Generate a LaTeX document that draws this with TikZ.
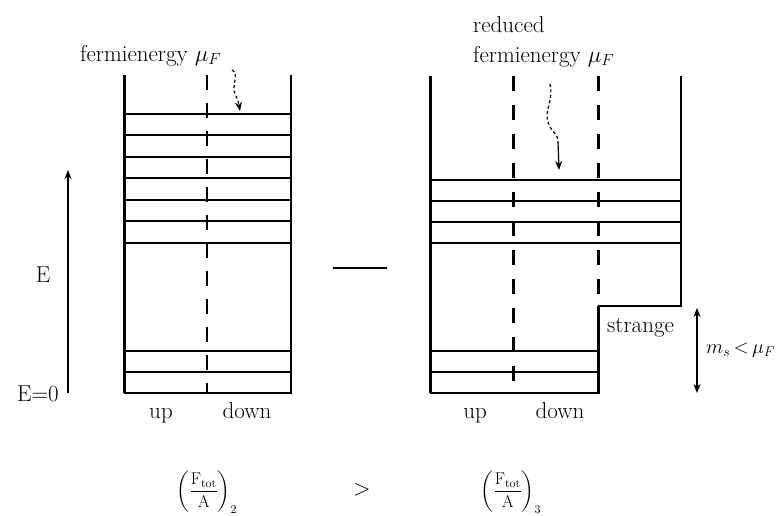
\RequirePackage{fix-cm}
\documentclass[tikz,border=0pt]{standalone}
\usepackage{exscale}
\usetikzlibrary{arrows.meta}
\begin{document}
\begin{tikzpicture}[x=1pt,y=-1pt,
  thickwall/.style={line width=3pt},
  thinwall/.style={line width=1.5pt},
  level/.style={line width=1.6pt},
  thindash/.style={line width=1.5pt,dash pattern=on 15pt off 13pt},
  thickdash/.style={line width=3pt,dash pattern=on 15pt off 14pt},
  lbl/.style={font=\fontsize{23}{27}\selectfont,inner sep=0pt},
  frm/.style={font=\fontsize{17}{21}\selectfont,inner sep=0pt},
  wavy/.style={line width=1.2pt,dash pattern=on 3pt off 2.5pt},
  tip/.style={-{Stealth[length=9pt,width=7pt]}}
]
\useasboundingbox (0,0) rectangle (784,515);
% ---------- left box ----------
\draw[thickwall] (124,75) -- (124,393);
\draw[thinwall] (124,393) -- (291,393) -- (291,75);
\draw[thindash] (207,75) -- (207,393);
\foreach \y in {114,135,157,178,200,221,243,351,372}
  \draw[level] (124,\y) -- (291,\y);
% ---------- right box ----------
\draw[thickwall] (430,76) -- (430,393);
\draw[thinwall] (430,393) -- (598,393);
\draw[thickwall] (598,306) -- (598,394);
\draw[thinwall] (598,306) -- (681,306) -- (681,76);
\draw[thickdash] (513,76) -- (513,393);
\draw[thickdash] (598,76) -- (598,306);
\foreach \y in {180,201,222,243}
  \draw[level] (430,\y) -- (681,\y);
\foreach \y in {351,372}
  \draw[level] (430,\y) -- (598,\y);
% ---------- labels ----------
\node[lbl,anchor=base west] (fl) at (80,61) {fermienergy $\mu_F$};
\node[lbl,anchor=base west] (red) at (473,32) {reduced};
\node[lbl,anchor=base west] (fr) at (473,62) {fermienergy $\mu_F$};
\coordinate (wl0) at (232,70);
\coordinate (wl1) at (240,111);
\draw[wavy,tip] (wl0) .. controls (240,74) and (231,86) .. (235,94)
  .. controls (238,100) .. (wl1);
\coordinate (wr0) at (550,84);
\coordinate (wr1) at (559,170);
\coordinate (wrm) at (558,142);
\draw[wavy] (wr0) .. controls (554,100) and (544,110) .. (548,122)
  .. controls (551,133) and (558,132) .. (wrm);
\draw[line width=1.2pt,tip] (wrm) -- (wr1);
% energy axis
\coordinate (ea) at (68,393);
\coordinate (eb) at (68,170);
\draw[line width=1.2pt,tip] (ea) -- (eb);
\node[lbl] (E) at (43,275) {E};
\node[lbl] (E0) at (38,394) {E=0};
% minus
\coordinate (m0) at (333,268);
\coordinate (m1) at (387,268);
\draw[line width=2pt] (m0) -- (m1);
% strange
\node[lbl,anchor=base west] (st) at (607,332) {strange};
\coordinate (da) at (697,308);
\coordinate (db) at (697,393);
\draw[line width=1.5pt,{Stealth[length=9pt,width=7pt]}-{Stealth[length=9pt,width=7pt]}] (da) -- (db);
\node[lbl,anchor=west,font=\fontsize{20}{24}\selectfont] (ms) at (706,350) {$m_s\,{<}\,\mu_F$};
% up / down
\node[lbl,anchor=base] (u1) at (161,418) {up};
\node[lbl,anchor=base] (d1) at (247,418) {down};
\node[lbl,anchor=base] (u2) at (475,418) {up};
\node[lbl,anchor=base] (d2) at (560,418) {down};
% formulas
\node[frm] (f2) at (207,492) {$\displaystyle\left(\frac{\mathrm{F}_{\mathrm{tot}}}{\mathrm{A}}\right)_{2}$};
\node[lbl] (gt) at (362,490) {$>$};
\node[frm] (f3) at (511,492) {$\displaystyle\left(\frac{\mathrm{F}_{\mathrm{tot}}}{\mathrm{A}}\right)_{3}$};
\end{tikzpicture}
\end{document}
